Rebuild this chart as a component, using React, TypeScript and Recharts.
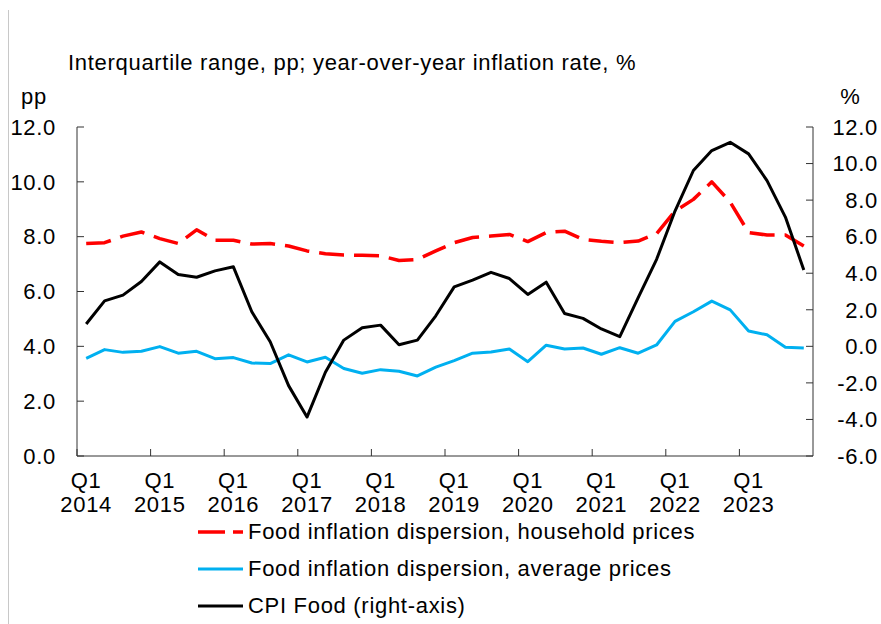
import React from 'react';
import { LineChart, Line, XAxis, YAxis, Legend } from 'recharts';

const YEARS = ['2014', '2015', '2016', '2017', '2018', '2019', '2020', '2021', '2022', '2023'];
const QUARTERS = ['Q1', 'Q2', 'Q3', 'Q4'];
const PERIODS = YEARS.flatMap((year) => QUARTERS.map((q) => `${q} ${year}`));

// interquartile range, pp (left axis)
const HOUSEHOLD_DISPERSION = [
  7.75, 7.78, 8.02, 8.17, 7.93, 7.75, 8.25, 7.87, 7.87, 7.73,
  7.75, 7.66, 7.48, 7.38, 7.33, 7.32, 7.3, 7.13, 7.17, 7.48,
  7.78, 7.97, 8.02, 8.08, 7.82, 8.15, 8.2, 7.9, 7.83, 7.78,
  7.84, 8.11, 8.93, 9.36, 10.0, 9.26, 8.15, 8.06, 8.06, 7.66,
];
const AVERAGE_DISPERSION = [
  3.56, 3.88, 3.78, 3.82, 3.99, 3.75, 3.82, 3.55, 3.59, 3.39,
  3.37, 3.69, 3.43, 3.6, 3.19, 3.02, 3.15, 3.09, 2.92, 3.24,
  3.48, 3.75, 3.79, 3.9, 3.44, 4.04, 3.9, 3.94, 3.71, 3.95,
  3.75, 4.05, 4.91, 5.26, 5.65, 5.33, 4.56, 4.42, 3.97, 3.94,
];
// year-over-year, % (right axis)
const CPI_FOOD = [
  1.22, 2.49, 2.8, 3.55, 4.62, 3.93, 3.78, 4.13, 4.35, 1.89,
  0.25, -2.15, -3.87, -1.42, 0.34, 1.02, 1.16, 0.09, 0.34, 1.67,
  3.25, 3.62, 4.05, 3.71, 2.84, 3.51, 1.8, 1.53, 0.95, 0.53,
  2.67, 4.76, 7.4, 9.62, 10.71, 11.16, 10.53, 9.07, 7.07, 4.18,
];

const LEFT_TICKS = [0, 2, 4, 6, 8, 10, 12];
const RIGHT_TICKS = [-6, -4, -2, 0, 2, 4, 6, 8, 10, 12];

const data = PERIODS.map((period, i) => ({
  period,
  household: HOUSEHOLD_DISPERSION[i],
  average: AVERAGE_DISPERSION[i],
  cpi: CPI_FOOD[i],
}));

const SERIES = [
  { key: 'household', name: 'Food inflation dispersion, household prices', color: '#FF0000', axis: 'left', width: 3.5, dash: '25 10' },
  { key: 'average', name: 'Food inflation dispersion, average prices', color: '#00B0F0', axis: 'left', width: 3, dash: undefined },
  { key: 'cpi', name: 'CPI Food (right-axis)', color: '#000000', axis: 'right', width: 3, dash: undefined },
];

const FONT = '"Liberation Sans", Arial, sans-serif';
const FONT_SIZE = 22;
const SPACING = '0.7px';
const AXIS = '#333333';
const W = 881;
const H = 624;
const PLOT_LEFT = 77;
const PLOT_RIGHT = 813;
const HALF_BAND = (PLOT_RIGHT - PLOT_LEFT) / PERIODS.length / 2;

const textStyle = { fontFamily: FONT, fontSize: FONT_SIZE, letterSpacing: SPACING, fill: '#000' };

const XTick = (props: any) => {
  const { x, y, payload } = props;
  const [q, year] = String(payload.value).split(' ');
  return (
    <g>
      <line x1={x - HALF_BAND} x2={x - HALF_BAND} y1={y} y2={y - 7} stroke={AXIS} strokeWidth={1} />
      <text x={x} y={y + 32} textAnchor="middle" style={textStyle}>{q}</text>
      <text x={x} y={y + 56} textAnchor="middle" style={textStyle}>{year}</text>
    </g>
  );
};

const YTick = (props: any) => {
  const { x, y, payload } = props;
  return (
    <text x={x} y={y} dy="0.355em" textAnchor="end" style={textStyle}>
      {Number(payload.value).toFixed(1)}
    </text>
  );
};

const LegendContent = () => (
  <div style={{ display: 'flex', flexDirection: 'column', fontFamily: FONT }}>
    {SERIES.map((s) => (
      <div key={s.key} style={{ height: 37, display: 'flex', alignItems: 'center' }}>
        <svg width={45} height={8} style={{ display: 'block' }}>
          <line
            x1={0}
            x2={45}
            y1={4}
            y2={4}
            stroke={s.color}
            strokeWidth={s.width}
            strokeDasharray={s.dash ? '27 8' : undefined}
          />
        </svg>
        <span style={{ marginLeft: 5, fontSize: FONT_SIZE, letterSpacing: SPACING, color: '#000', whiteSpace: 'nowrap' }}>
          {s.name}
        </span>
      </div>
    ))}
  </div>
);

export default function App() {
  return (
    <div
      style={{
        position: 'absolute',
        left: 0,
        top: 0,
        width: W,
        height: H,
        overflow: 'hidden',
        background: '#fff',
        fontFamily: FONT,
      }}
    >
      <LineChart width={W} height={H} data={data} margin={{ top: 127, right: 0, bottom: 7, left: 0 }}>
        <XAxis
          dataKey="period"
          scale="band"
          interval={3}
          tickLine={false}
          tickSize={0}
          tickMargin={0}
          height={50}
          axisLine={{ stroke: AXIS }}
          tick={(p: any) => <XTick {...p} />}
        />
        <YAxis
          yAxisId="left"
          domain={[0, 12]}
          ticks={LEFT_TICKS}
          interval={0}
          width={77}
          tickSize={-7}
          tickMargin={28}
          axisLine={{ stroke: AXIS }}
          tickLine={{ stroke: AXIS }}
          tick={(p: any) => <YTick {...p} />}
        />
        <YAxis
          yAxisId="right"
          orientation="right"
          domain={[-6, 12]}
          ticks={RIGHT_TICKS}
          interval={0}
          width={68}
          tickSize={-7}
          tickMargin={72}
          axisLine={{ stroke: AXIS }}
          tickLine={{ stroke: AXIS }}
          tick={(p: any) => <YTick {...p} />}
        />
        {SERIES.map((s) => (
          <Line
            key={s.key}
            yAxisId={s.axis}
            dataKey={s.key}
            name={s.name}
            type="linear"
            stroke={s.color}
            strokeWidth={s.width}
            strokeDasharray={s.dash}
            strokeLinejoin="round"
            dot={false}
            activeDot={false}
            isAnimationActive={false}
          />
        ))}
        <Legend
          layout="horizontal"
          verticalAlign="bottom"
          align="left"
          width={560}
          wrapperStyle={{ left: 198, bottom: 0 }}
          content={() => <LegendContent />}
        />
      </LineChart>
      <div style={{ position: 'absolute', left: 8, top: 10, bottom: 0, width: 1, background: '#c8c8c8' }} />
      <div
        style={{
          position: 'absolute',
          left: 68,
          top: 52,
          fontSize: FONT_SIZE,
          lineHeight: '22px',
          letterSpacing: SPACING,
          whiteSpace: 'nowrap',
        }}
      >
        Interquartile range, pp; year-over-year inflation rate, %
      </div>
      <div style={{ position: 'absolute', left: 21, top: 86, fontSize: FONT_SIZE, lineHeight: '22px', letterSpacing: SPACING }}>
        pp
      </div>
      <div
        style={{
          position: 'absolute',
          left: 820,
          width: 60,
          textAlign: 'center',
          top: 86,
          fontSize: FONT_SIZE,
          lineHeight: '22px',
        }}
      >
        %
      </div>
    </div>
  );
}
